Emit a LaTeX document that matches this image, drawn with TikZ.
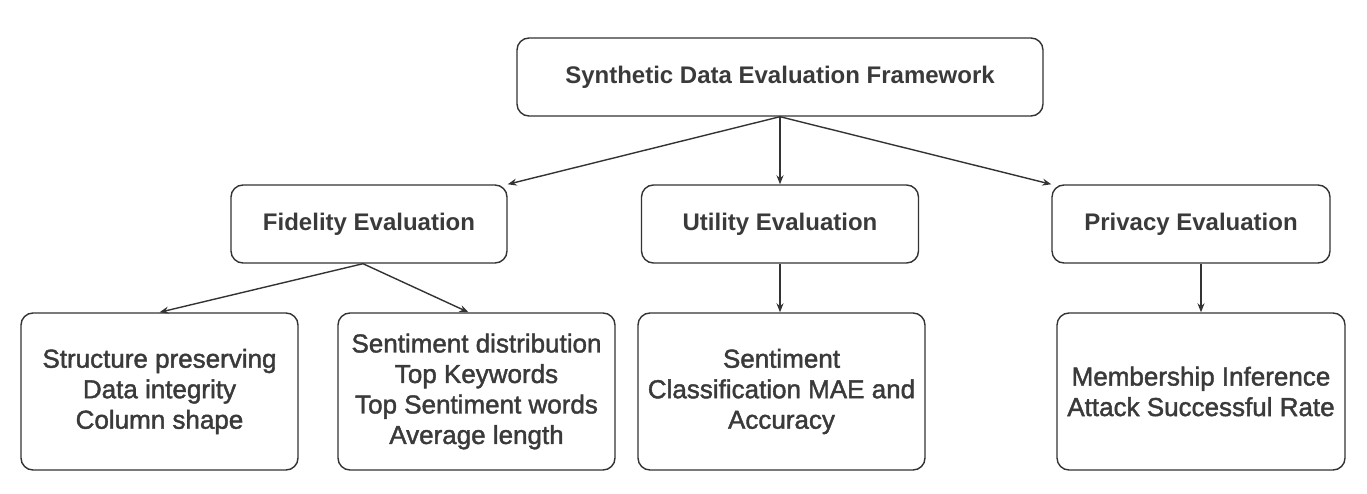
\documentclass[tikz,border=0pt]{standalone}
\usepackage{fontspec}
\setmainfont{Liberation Sans}
\newfontfamily\mediumfont[FakeBold=1.6]{Liberation Sans}
\usetikzlibrary{arrows.meta,calc}

\definecolor{boxline}{RGB}{51,51,51}
\definecolor{boxtext}{RGB}{58,58,58}

\tikzset{
  box/.style={draw=boxline, line width=1.4pt, rounded corners=12pt, align=center, text=boxtext, inner sep=0pt},
  headbox/.style={box, minimum height=78pt, font=\fontsize{24}{29}\selectfont\bfseries},
  itembox/.style={box, minimum height=157pt, font=\mediumfont\fontsize{26}{30.5}\selectfont},
  link/.style={draw=boxline, line width=1.4pt, -{Stealth[length=9pt,width=7pt]}}
}

\begin{document}
\begin{tikzpicture}[x=1pt,y=1pt,yscale=-1]
\useasboundingbox (0,0) rectangle (1367,494);

%Shape: Rounded Rect (root)
\node[headbox, minimum width=526pt] (frame) at (780,77) {Synthetic Data Evaluation Framework};

%Shape: Rounded Rect (second row)
\node[headbox, minimum width=276pt] (fidelity) at (369,224) {Fidelity Evaluation};
\node[headbox, minimum width=277pt] (utility) at (780,224) {Utility Evaluation};
\node[headbox, minimum width=278pt] (privacy) at (1191,224) {Privacy Evaluation};

%Shape: Rounded Rect (metrics)
\node[itembox, minimum width=277pt] (fidstruct) at (159.5,391.5) {Structure preserving\\Data integrity\\Column shape};
\node[itembox, minimum width=277pt] (fidtext) at (476.5,391.5) {Sentiment distribution\\Top Keywords\\Top Sentiment words\\Average length};
\node[itembox, minimum width=287pt] (utimetric) at (781.5,391.5) {Sentiment\\Classification MAE and\\Accuracy};
\node[itembox, minimum width=288pt] (primetric) at (1201,391.5) {Membership Inference\\Attack Successful Rate};

%Straight Lines
\draw[link] (frame.south) -- (fidelity.north east);
\draw[link] (frame.south) -- (utility.north);
\draw[link] (frame.south) -- (privacy.north west);

\draw[link] ($(fidelity.south)+(-6,0)$) -- (fidstruct.north);
\draw[link] ($(fidelity.south)+(-6,0)$) -- ($(fidtext.north)+(-8,0)$);
\draw[link] (utility.south) -- (utility.south |- utimetric.north);
\draw[link] (primetric.north |- privacy.south) -- (primetric.north);

\end{tikzpicture}
\end{document}
